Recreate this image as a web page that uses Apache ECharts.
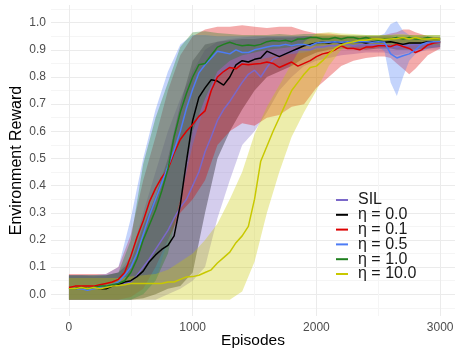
<!DOCTYPE html>
<html>
<head>
<meta charset="utf-8">
<script src="https://cdn.jsdelivr.net/npm/echarts@6/dist/echarts.min.js"></script>
<style>html,body{margin:0;padding:0;background:#fff}#chart{width:455px;height:350px}</style>
</head>
<body>
<div id="chart"></div>
<script>
// episodes for the mean curves
const episodes = [0,50,100,150,200,250,300,350,400,450,500,550,600,650,700,750,800,850,900,950,
  1000,1050,1100,1150,1200,1250,1300,1350,1400,1450,1500,1550,1600,1650,1700,1750,1800,1850,1900,1950,
  2000,2050,2100,2150,2200,2250,2300,2350,2400,2450,2500,2550,2600,2650,2700,2750,2800,2850,2900,2950,3000];

const silMean = [0.02,0.02,0.02,0.02,0.025,0.025,0.03,0.03,0.035,0.04,0.045,0.07,0.1,0.13,0.165,0.2,0.235,0.28,0.32,0.35,
  0.4,0.45,0.525,0.58,0.64,0.68,0.71,0.745,0.78,0.81,0.825,0.8,0.835,0.865,0.875,0.885,0.895,0.9,0.9,0.9,
  0.91,0.91,0.915,0.915,0.92,0.92,0.915,0.92,0.92,0.92,0.918,0.92,0.915,0.91,0.915,0.918,0.92,0.92,0.922,0.925,0.925];
const eta00Mean = [0.02,0.02,0.025,0.02,0.025,0.02,0.02,0.03,0.035,0.045,0.05,0.065,0.085,0.12,0.145,0.165,0.18,0.215,0.33,0.49,
  0.64,0.725,0.76,0.79,0.785,0.77,0.8,0.845,0.86,0.855,0.865,0.87,0.895,0.885,0.875,0.885,0.895,0.905,0.915,0.92,
  0.925,0.928,0.925,0.93,0.925,0.93,0.928,0.93,0.925,0.93,0.93,0.928,0.93,0.925,0.92,0.925,0.925,0.925,0.93,0.93,0.93];
const eta01Mean = [0.025,0.03,0.03,0.03,0.03,0.035,0.04,0.045,0.055,0.08,0.14,0.21,0.27,0.34,0.39,0.43,0.46,0.52,0.57,0.6,
  0.625,0.655,0.675,0.75,0.8,0.82,0.835,0.83,0.848,0.845,0.848,0.85,0.855,0.85,0.835,0.845,0.855,0.84,0.85,0.86,
  0.875,0.885,0.89,0.9,0.915,0.905,0.905,0.9,0.91,0.91,0.915,0.915,0.912,0.92,0.912,0.905,0.89,0.9,0.918,0.925,0.928];
const eta05Mean = [0.02,0.02,0.02,0.015,0.02,0.025,0.03,0.035,0.045,0.07,0.1,0.15,0.22,0.29,0.35,0.41,0.47,0.53,0.6,0.685,
  0.755,0.815,0.845,0.87,0.895,0.89,0.885,0.9,0.89,0.89,0.9,0.905,0.91,0.915,0.915,0.92,0.915,0.92,0.92,0.915,
  0.925,0.928,0.928,0.93,0.928,0.93,0.928,0.93,0.93,0.928,0.93,0.928,0.885,0.87,0.878,0.885,0.9,0.92,0.928,0.93,0.93];
const eta10Mean = [0.02,0.02,0.025,0.02,0.025,0.03,0.03,0.035,0.04,0.05,0.08,0.13,0.2,0.255,0.31,0.38,0.46,0.58,0.67,0.74,
  0.8,0.845,0.85,0.88,0.91,0.92,0.928,0.92,0.915,0.918,0.915,0.92,0.93,0.934,0.932,0.935,0.93,0.94,0.94,0.945,
  0.945,0.94,0.94,0.945,0.94,0.945,0.945,0.94,0.945,0.94,0.935,0.94,0.94,0.945,0.94,0.945,0.94,0.94,0.945,0.94,0.94];
const eta100Mean = [0.02,0.02,0.025,0.02,0.025,0.02,0.025,0.03,0.032,0.035,0.04,0.04,0.04,0.04,0.04,0.04,0.045,0.045,0.055,0.064,
  0.065,0.07,0.08,0.09,0.115,0.135,0.155,0.19,0.215,0.25,0.35,0.49,0.545,0.6,0.65,0.7,0.75,0.78,0.81,0.835,
  0.84,0.86,0.885,0.905,0.918,0.925,0.93,0.935,0.935,0.94,0.94,0.938,0.94,0.942,0.945,0.94,0.945,0.94,0.94,0.942,0.94];

// episodes for the shaded ranges
const bandEpisodes = [0,100,200,300,400,500,600,700,800,900,1000,1100,1200,1300,1400,1500,1600,1700,1800,1900,
  2000,2100,2200,2300,2400,2500,2550,2600,2650,2700,2750,2800,2900,3000];

const silLo = [-0.02,-0.02,-0.02,-0.02,-0.02,-0.02,-0.02,-0.02,0.0,0.02,0.05,0.1,0.28,0.42,0.55,0.6,0.67,0.75,0.8,0.84,
  0.86,0.87,0.88,0.885,0.89,0.89,0.89,0.885,0.88,0.885,0.89,0.89,0.9,0.9];
const silHi = [0.07,0.07,0.065,0.07,0.08,0.14,0.3,0.45,0.6,0.72,0.82,0.9,0.93,0.94,0.945,0.95,0.95,0.95,0.95,0.95,
  0.95,0.945,0.945,0.945,0.945,0.945,0.945,0.945,0.945,0.945,0.945,0.945,0.945,0.945];
const eta00Lo = [-0.02,-0.02,-0.02,-0.02,-0.02,-0.02,-0.015,0.0,0.02,0.03,0.08,0.3,0.5,0.6,0.68,0.75,0.8,0.82,0.84,0.87,
  0.89,0.9,0.905,0.905,0.9,0.905,0.905,0.905,0.9,0.9,0.9,0.9,0.905,0.91];
const eta00Hi = [0.07,0.07,0.07,0.07,0.08,0.12,0.25,0.36,0.5,0.7,0.86,0.92,0.93,0.935,0.94,0.94,0.945,0.945,0.945,0.95,
  0.95,0.95,0.95,0.95,0.95,0.95,0.95,0.95,0.945,0.945,0.945,0.945,0.945,0.945];
const eta01Lo = [-0.02,-0.02,-0.02,-0.02,-0.02,-0.01,0.02,0.1,0.2,0.3,0.35,0.42,0.55,0.6,0.63,0.62,0.65,0.66,0.69,0.7,
  0.76,0.8,0.84,0.86,0.87,0.875,0.875,0.87,0.85,0.83,0.81,0.83,0.88,0.905];
const eta01Hi = [0.075,0.075,0.075,0.075,0.1,0.22,0.42,0.58,0.75,0.88,0.95,0.975,0.985,0.985,0.99,0.985,0.98,0.985,0.985,0.97,
  0.96,0.96,0.955,0.95,0.95,0.95,0.955,0.96,0.965,0.975,0.975,0.965,0.95,0.945];
const eta05Lo = [-0.02,-0.02,-0.02,-0.02,-0.02,-0.02,0.0,0.05,0.2,0.35,0.55,0.7,0.8,0.83,0.85,0.86,0.87,0.88,0.885,0.89,
  0.9,0.905,0.905,0.91,0.91,0.91,0.895,0.78,0.73,0.8,0.86,0.885,0.905,0.91];
const eta05Hi = [0.07,0.07,0.07,0.075,0.1,0.28,0.5,0.68,0.82,0.92,0.955,0.955,0.95,0.95,0.95,0.95,0.95,0.95,0.95,0.95,
  0.95,0.95,0.95,0.95,0.95,0.95,0.96,0.995,1.005,0.97,0.955,0.95,0.95,0.945];
const eta10Lo = [-0.02,-0.02,-0.02,-0.02,-0.02,-0.02,0.0,0.05,0.15,0.35,0.6,0.72,0.82,0.86,0.88,0.89,0.9,0.905,0.91,0.915,
  0.915,0.92,0.92,0.92,0.92,0.92,0.92,0.92,0.92,0.92,0.92,0.92,0.92,0.92];
const eta10Hi = [0.07,0.07,0.07,0.07,0.08,0.2,0.48,0.65,0.78,0.91,0.965,0.968,0.962,0.958,0.955,0.955,0.955,0.958,0.955,0.958,
  0.958,0.955,0.955,0.955,0.955,0.955,0.955,0.955,0.955,0.955,0.955,0.955,0.955,0.955];
const eta100Lo = [-0.02,-0.02,-0.02,-0.02,-0.02,-0.02,-0.02,-0.02,-0.02,-0.02,-0.02,-0.02,-0.02,-0.02,0.01,0.12,0.3,0.45,0.58,0.67,
  0.75,0.84,0.9,0.915,0.92,0.92,0.92,0.92,0.92,0.925,0.92,0.925,0.92,0.92];
const eta100Hi = [0.06,0.06,0.06,0.06,0.06,0.065,0.07,0.075,0.09,0.12,0.15,0.2,0.26,0.35,0.45,0.59,0.69,0.77,0.85,0.93,
  0.96,0.965,0.96,0.958,0.955,0.955,0.955,0.955,0.958,0.958,0.955,0.955,0.955,0.955];

const legendNames = ['SIL', 'η = 0.0', 'η = 0.1', 'η = 0.5', 'η = 1.0', 'η = 10.0'];
const colors = ['#7b68c9', '#000000', '#dd0000', '#4d7cf5', '#1f7f1f', '#c8c800'];
const means = [silMean, eta00Mean, eta01Mean, eta05Mean, eta10Mean, eta100Mean];
const lows = [silLo, eta00Lo, eta01Lo, eta05Lo, eta10Lo, eta100Lo];
const highs = [silHi, eta00Hi, eta01Hi, eta05Hi, eta10Hi, eta100Hi];

const xMajor = [0, 1000, 2000, 3000];
const xMinor = [500, 1500, 2500];
const yMajor = [0, 0.1, 0.2, 0.3, 0.4, 0.5, 0.6, 0.7, 0.8, 0.9, 1.0];
const yMinor = [-0.05, 0.05, 0.15, 0.25, 0.35, 0.45, 0.55, 0.65, 0.75, 0.85, 0.95, 1.05];

function pairs(xs, ys){ return xs.map((x, i) => [x, ys[i]]); }

var series = [];
// ribbons first, one polygon per series (upper edge, then lower edge backwards)
legendNames.forEach(function(name, k){
  var rows = bandEpisodes.map((x, i) => [x, lows[k][i], highs[k][i]]);
  series.push({
    type: 'custom', silent: true, z: 1, clip: true,
    data: rows, encode: {x: 0, y: [1, 2]},
    renderItem: function(params, api){
      if (params.dataIndex !== 0) return;
      var pts = [];
      rows.forEach(r => pts.push(api.coord([r[0], r[2]])));
      for (var i = rows.length - 1; i >= 0; i--) pts.push(api.coord([rows[i][0], rows[i][1]]));
      return {type: 'polygon', shape: {points: pts}, style: {fill: colors[k], opacity: 0.33}};
    }
  });
});
// mean lines on top
legendNames.forEach(function(name, k){
  series.push({
    type: 'line', name: name, data: pairs(episodes, means[k]), symbol: 'none',
    lineStyle: {color: colors[k], width: 1.5}, itemStyle: {color: colors[k]}, z: 3
  });
});

var chart = echarts.init(document.getElementById('chart'), null, {renderer: 'canvas'});
chart.setOption({
  animation: false,
  backgroundColor: '#fff',
  textStyle: {fontFamily: '"Liberation Sans", Arial, sans-serif'},
  grid: {left: 51, right: 0, top: 5, bottom: 34, outerBoundsMode: 'none'},
  legend: {
    data: legendNames, orient: 'vertical', left: 331, top: 187, icon: 'rect',
    itemWidth: 12, itemHeight: 2, itemGap: -1.2, selectedMode: false,
    textStyle: {fontSize: 16, color: '#1a1a1a', lineHeight: 15, padding: [0, 0, 0, 5]}
  },
  xAxis: [{
    type: 'value', min: -145, max: 3120,
    name: 'Episodes', nameLocation: 'middle', nameGap: 17, nameMoveOverlap: false,
    nameTextStyle: {fontSize: 15.5, color: '#000'},
    axisLine: {show: false},
    axisTick: {show: false, customValues: xMajor},
    axisLabel: {customValues: xMajor, color: '#4d4d4d', fontSize: 12, margin: 6,
      formatter: function(v){ return String(v); }},
    splitLine: {show: true, lineStyle: {color: '#ebebeb', width: 1}}
  }, {
    type: 'value', min: -145, max: 3120, position: 'bottom',
    axisLine: {show: false}, axisLabel: {show: false},
    axisTick: {show: false, customValues: xMinor},
    splitLine: {show: true, lineStyle: {color: '#f5f5f5', width: 1}}
  }],
  yAxis: [{
    type: 'value', min: -0.08, max: 1.065,
    name: 'Environment Reward', nameLocation: 'middle', nameGap: 26, nameMoveOverlap: false,
    nameTextStyle: {fontSize: 16, color: '#000'},
    axisLine: {show: false},
    axisTick: {show: false, customValues: yMajor},
    axisLabel: {customValues: yMajor, color: '#4d4d4d', fontSize: 12, margin: 5,
      formatter: function(v){ return v.toFixed(1); }},
    splitLine: {show: true, lineStyle: {color: '#ebebeb', width: 1}}
  }, {
    type: 'value', min: -0.08, max: 1.065, position: 'left',
    axisLine: {show: false}, axisLabel: {show: false},
    axisTick: {show: false, customValues: yMinor},
    splitLine: {show: true, lineStyle: {color: '#f5f5f5', width: 1}}
  }],
  series: series
});
</script>
</body>
</html>
